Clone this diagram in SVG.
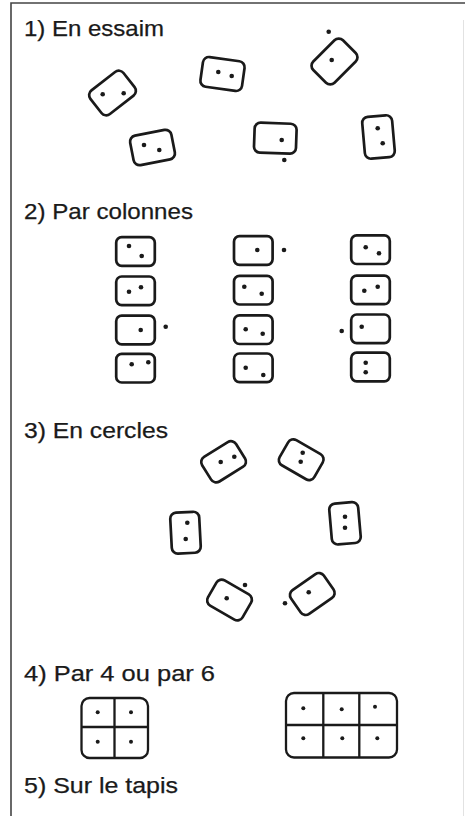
<svg xmlns="http://www.w3.org/2000/svg" width="465" height="816" viewBox="0 0 465 816">
<style>
.t{font-family:"Liberation Sans",Arial,sans-serif;font-size:21.5px;fill:#1a1a1a;stroke:#1a1a1a;stroke-width:0.25}
.d{fill:none;stroke:#1a1a1a;stroke-width:2.7}
.g{fill:none;stroke:#1a1a1a;stroke-width:2.3}
.p{fill:#1a1a1a}
.frame{stroke:#444;stroke-width:1.6;fill:none}
</style>
<defs>
<rect id="L1" x="-21" y="-15" width="42" height="30" rx="6"/>
<rect id="P1" x="-15" y="-21" width="30" height="42" rx="6"/>
<rect id="L2" x="-19.3" y="-14.3" width="38.6" height="28.6" rx="5.5"/>
<rect id="L3" x="-20" y="-14.5" width="40" height="29" rx="6"/>
<rect id="P3" x="-14.5" y="-20.5" width="29" height="41" rx="6"/>
</defs>
<path class="frame" d="M11,816 V3 H465"/>
<path d="M463.5,20 V816" stroke="#e2e2e2" stroke-width="1" fill="none"/>

<g id="titles">
<text class="t" x="24" y="36" textLength="140" lengthAdjust="spacingAndGlyphs">1) En essaim</text>
<text class="t" x="24" y="219" textLength="169" lengthAdjust="spacingAndGlyphs">2) Par colonnes</text>
<text class="t" x="24" y="438" textLength="144" lengthAdjust="spacingAndGlyphs">3) En cercles</text>
<text class="t" x="24" y="681" textLength="191" lengthAdjust="spacingAndGlyphs">4) Par 4 ou par 6</text>
<text class="t" x="24" y="793" textLength="154" lengthAdjust="spacingAndGlyphs">5) Sur le tapis</text>
</g>

<g id="s1-d1"><use href="#L1" class="d" transform="translate(112.5,93) rotate(-38)"/><circle class="p" cx="102.7" cy="94.3" r="2.3"/><circle class="p" cx="123.7" cy="93.3" r="2.3"/></g>
<g id="s1-d2"><use href="#L1" class="d" transform="translate(222.5,74) rotate(8)"/><circle class="p" cx="218.3" cy="72" r="2.3"/><circle class="p" cx="231.7" cy="76" r="2.3"/></g>
<g id="s1-d3"><use href="#L1" class="d" transform="translate(334.5,61.5) rotate(-45)"/><circle class="p" cx="331.7" cy="60" r="2.3"/><circle class="p" cx="328.7" cy="31.7" r="2.3"/></g>
<g id="s1-d4"><use href="#L1" class="d" transform="translate(152.5,147.5) rotate(-11)"/><circle class="p" cx="144" cy="145" r="2.3"/><circle class="p" cx="159.3" cy="150" r="2.3"/></g>
<g id="s1-d5"><use href="#L1" class="d" transform="translate(275.3,138.2) rotate(2)"/><circle class="p" cx="281.7" cy="140" r="2.3"/><circle class="p" cx="284.3" cy="160" r="2.3"/></g>
<g id="s1-d6"><use href="#P1" class="d" transform="translate(378.5,137) rotate(-5)"/><circle class="p" cx="377.7" cy="128.3" r="2.3"/><circle class="p" cx="382.7" cy="143.3" r="2.3"/></g>

<g id="s2-c1r1"><use href="#L2" class="d" transform="translate(135.5,251.5)"/><circle class="p" cx="129" cy="246" r="2.3"/><circle class="p" cx="141.7" cy="256" r="2.3"/></g>
<g id="s2-c1r2"><use href="#L2" class="d" transform="translate(135.5,290.8)"/><circle class="p" cx="129" cy="291.7" r="2.3"/><circle class="p" cx="141" cy="287.3" r="2.3"/></g>
<g id="s2-c1r3"><use href="#L2" class="d" transform="translate(135.5,330)"/><circle class="p" cx="140.7" cy="330" r="2.3"/><circle class="p" cx="165.7" cy="326.7" r="2.3"/></g>
<g id="s2-c1r4"><use href="#L2" class="d" transform="translate(135.5,368.2)"/><circle class="p" cx="131.7" cy="364.3" r="2.3"/><circle class="p" cx="148.3" cy="362.3" r="2.3"/></g>

<g id="s2-c2r1"><use href="#L2" class="d" transform="translate(253.3,250.5)"/><circle class="p" cx="257.3" cy="250" r="2.3"/><circle class="p" cx="284" cy="250" r="2.3"/></g>
<g id="s2-c2r2"><use href="#L2" class="d" transform="translate(253.3,290.2)"/><circle class="p" cx="244.3" cy="286.7" r="2.3"/><circle class="p" cx="261.7" cy="293.7" r="2.3"/></g>
<g id="s2-c2r3"><use href="#L2" class="d" transform="translate(253.3,329.7)"/><circle class="p" cx="245.7" cy="329.3" r="2.3"/><circle class="p" cx="262.7" cy="333.7" r="2.3"/></g>
<g id="s2-c2r4"><use href="#L2" class="d" transform="translate(253.3,367.8)"/><circle class="p" cx="245.7" cy="367.7" r="2.3"/><circle class="p" cx="263.3" cy="375" r="2.3"/></g>

<g id="s2-c3r1"><use href="#L2" class="d" transform="translate(370.5,249.7)"/><circle class="p" cx="365.7" cy="247.3" r="2.3"/><circle class="p" cx="379" cy="253.3" r="2.3"/></g>
<g id="s2-c3r2"><use href="#L2" class="d" transform="translate(370.5,289.9)"/><circle class="p" cx="364.3" cy="290.7" r="2.3"/><circle class="p" cx="377.7" cy="286.7" r="2.3"/></g>
<g id="s2-c3r3"><use href="#L2" class="d" transform="translate(370.5,328.8)"/><circle class="p" cx="361.7" cy="326.7" r="2.3"/><circle class="p" cx="341.7" cy="331" r="2.3"/></g>
<g id="s2-c3r4"><use href="#L2" class="d" transform="translate(370.5,367)"/><circle class="p" cx="365.7" cy="362.7" r="2.3"/><circle class="p" cx="365.7" cy="372.3" r="2.3"/></g>

<g id="s3-c1"><use href="#L3" class="d" transform="translate(223.6,461.8) rotate(-32)"/><circle class="p" cx="220.7" cy="462" r="2.3"/><circle class="p" cx="234.3" cy="456.7" r="2.3"/></g>
<g id="s3-c2"><use href="#L3" class="d" transform="translate(301.2,459.7) rotate(30)"/><circle class="p" cx="302.7" cy="452.7" r="2.3"/><circle class="p" cx="300.7" cy="461.7" r="2.3"/></g>
<g id="s3-c3"><use href="#P3" class="d" transform="translate(185.5,532.7) rotate(-3)"/><circle class="p" cx="187.3" cy="522.7" r="2.3"/><circle class="p" cx="185.7" cy="539" r="2.3"/></g>
<g id="s3-c4"><use href="#P3" class="d" transform="translate(345,523.3) rotate(-5)"/><circle class="p" cx="345" cy="516.7" r="2.3"/><circle class="p" cx="345" cy="527.7" r="2.3"/></g>
<g id="s3-c5"><use href="#L3" class="d" transform="translate(229.5,600) rotate(30)"/><circle class="p" cx="226.7" cy="598.3" r="2.3"/><circle class="p" cx="245" cy="585" r="2.3"/></g>
<g id="s3-c6"><use href="#L3" class="d" transform="translate(312.3,594) rotate(-35)"/><circle class="p" cx="308.7" cy="592.3" r="2.3"/><circle class="p" cx="285" cy="603.3" r="2.3"/></g>

<g id="s4-grid4">
<rect class="g" x="81.5" y="698" width="66.5" height="60" rx="8"/>
<path class="g" d="M114.5,698 V758 M81.5,727 H148"/>
<circle class="p" cx="97.7" cy="712.3" r="2"/><circle class="p" cx="131" cy="712.3" r="2"/>
<circle class="p" cx="97.7" cy="741.7" r="2"/><circle class="p" cx="131" cy="741.7" r="2"/>
</g>
<g id="s4-grid6">
<rect class="g" x="286" y="693" width="111" height="64.5" rx="8"/>
<path class="g" d="M323.3,693 V757.5 M359.3,693 V757.5 M286,725 H397"/>
<circle class="p" cx="303.3" cy="708.3" r="2"/><circle class="p" cx="341.7" cy="709.3" r="2"/><circle class="p" cx="375" cy="706.7" r="2"/>
<circle class="p" cx="303.3" cy="738.3" r="2"/><circle class="p" cx="342.3" cy="738.3" r="2"/><circle class="p" cx="377.3" cy="738.3" r="2"/>
</g>
</svg>
